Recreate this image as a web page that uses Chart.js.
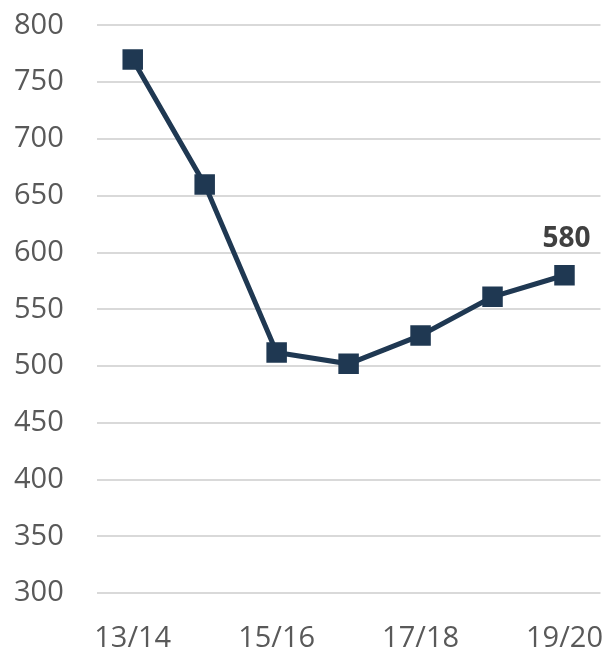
<!DOCTYPE html>
<html>
<head>
<meta charset="utf-8">
<script src="https://cdn.jsdelivr.net/npm/chart.js@4/dist/chart.umd.min.js"></script>
<style>
    html, body { margin: 0; padding: 0; background: #fff; overflow: hidden; }
    #frame { width: 607px; height: 649px; overflow: hidden; position: relative; }
    #wrap { position: absolute; left: 0; top: -25px; width: 632px; height: 689px; }
</style>
</head>
<body>
<div id="frame"><div id="wrap"><canvas id="chart"></canvas></div></div>
<script>
const seasons = ["13/14", "14/15", "15/16", "16/17", "17/18", "18/19", "19/20"];
const values = [770, 660, 512, 502, 527, 561, 580];
const yTicks = [300, 350, 400, 450, 500, 550, 600, 650, 700, 750, 800];

const navy = '#1f3852';

// label only the last point, like the original
const lastLabel = {
    id: 'lastLabel',
    afterDatasetsDraw(chart) {
        const meta = chart.getDatasetMeta(0);
        const i = values.length - 1;
        const pt = meta.data[i];
        const ctx = chart.ctx;
        ctx.save();
        ctx.font = 'bold 28px "Open Sans", sans-serif';
        ctx.fillStyle = '#404040';
        ctx.textAlign = 'center';
        ctx.textBaseline = 'middle';
        ctx.fillText(String(values[i]), pt.x + 2, pt.y - 36);
        ctx.restore();
    }
};

new Chart(document.getElementById('chart').getContext('2d'), {
    type: 'line',
    data: {
        labels: seasons,
        datasets: [{
            data: values,
            borderColor: navy,
            backgroundColor: navy,
            borderWidth: 5,
            pointStyle: 'rect',
            pointRadius: 14.5,
            pointHoverRadius: 14.5,
            pointBackgroundColor: navy,
            pointBorderColor: navy,
            pointBorderWidth: 0,
            tension: 0
        }]
    },
    options: {
        responsive: true,
        maintainAspectRatio: false,
        animation: false,
        layout: { padding: { top: -16, right: -4, bottom: -20, left: -19 } },
        plugins: {
            legend: { display: false },
            tooltip: { enabled: false }
        },
        scales: {
            x: {
                offset: true,
                grid: { display: false, drawTicks: false },
                border: { display: false },
                ticks: {
                    autoSkip: false,
                    maxRotation: 0,
                    padding: 28,
                    color: '#595959',
                    font: { family: '"Open Sans", sans-serif', size: 29 },
                    callback: function (value, index) {
                        return index % 2 === 0 ? seasons[index] : '';
                    }
                }
            },
            y: {
                min: yTicks[0],
                max: yTicks[yTicks.length - 1],
                afterBuildTicks: function (axis) {
                    axis.ticks = yTicks.map(v => ({ value: v }));
                },
                grid: { color: '#d9d9d9', lineWidth: 2, drawTicks: false },
                border: { display: false },
                ticks: {
                    padding: 33,
                    color: '#595959',
                    font: { family: '"Open Sans", sans-serif', size: 29 }
                }
            }
        }
    },
    plugins: [lastLabel]
});
</script>
</body>
</html>
